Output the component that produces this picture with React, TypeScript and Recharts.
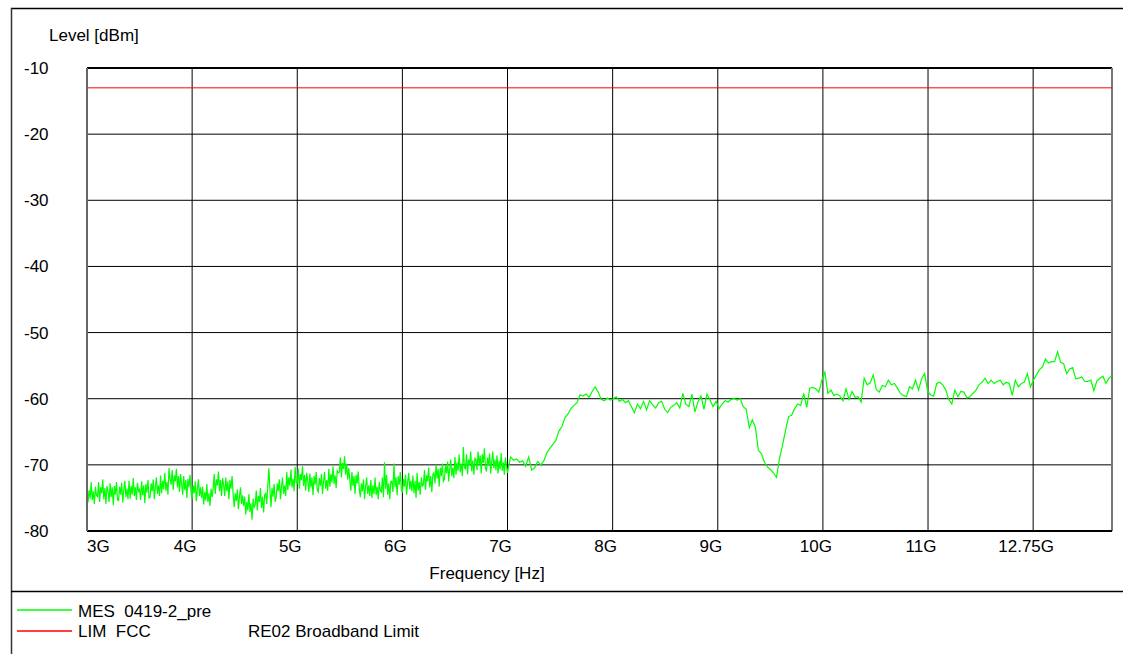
import React from "react";
import { LineChart, Line, XAxis, YAxis, CartesianGrid, ReferenceLine } from "recharts";

// Measurement trace, low band: 3.00 GHz .. 7.00 GHz, 0.01 GHz sweep step (dBm)
const lowBandStartGHz = 3.0;
const lowBandStepGHz = 0.01;
const lowBandLevels: number[] = [
  -73.0, -75.7, -73.8, -75.1, -72.6, -75.3, -74.0, -75.9, -73.3, -74.6,
  -74.8, -72.6, -75.6, -73.4, -74.3, -72.2, -75.2, -73.5, -75.9, -73.2,
  -74.0, -75.6, -72.8, -74.9, -73.4, -76.1, -73.2, -74.5, -72.6, -75.3,
  -75.4, -73.3, -74.5, -72.7, -75.7, -73.8, -72.4, -74.9, -73.6, -75.2,
  -72.4, -75.1, -73.2, -74.5, -72.0, -74.7, -73.4, -75.3, -72.7, -74.0,
  -73.7, -75.3, -72.5, -74.6, -73.1, -75.8, -72.9, -74.2, -72.3, -75.0,
  -74.9, -72.8, -74.0, -72.2, -75.2, -73.3, -71.9, -74.4, -73.1, -74.7,
  -71.6, -74.3, -72.4, -73.7, -71.2, -73.9, -72.6, -74.5, -70.5, -72.2,
  -73.0, -70.8, -73.8, -71.6, -72.5, -70.6, -73.4, -71.7, -74.1, -71.4,
  -72.9, -74.5, -71.7, -73.8, -72.3, -75.0, -72.1, -73.4, -71.5, -74.2,
  -75.2, -73.1, -74.3, -72.5, -75.5, -73.6, -72.2, -74.7, -73.4, -75.0,
  -73.3, -76.0, -74.1, -75.4, -72.9, -75.6, -74.3, -76.2, -73.6, -74.9,
  -73.6, -71.4, -74.4, -72.2, -73.1, -71.0, -74.0, -72.3, -74.7, -72.0,
  -73.1, -74.7, -71.9, -74.0, -72.5, -75.2, -72.3, -73.6, -71.7, -74.4,
  -76.4, -74.3, -75.5, -73.7, -76.7, -74.8, -73.4, -75.9, -74.6, -76.2,
  -74.8, -77.5, -75.6, -76.9, -74.4, -77.1, -75.8, -78.3, -75.1, -76.4,
  -76.1, -73.9, -76.9, -74.7, -75.6, -73.5, -76.5, -74.8, -77.2, -74.5,
  -74.3, -75.9, -73.1, -70.5, -73.7, -76.4, -73.5, -74.8, -72.9, -75.6,
  -74.9, -72.8, -74.0, -72.2, -75.2, -73.3, -71.9, -74.4, -73.1, -74.7,
  -71.1, -73.8, -71.9, -73.2, -70.7, -73.4, -72.1, -74.0, -70.3, -72.7,
  -72.8, -70.6, -73.6, -71.4, -72.3, -70.2, -73.2, -71.5, -73.9, -71.2,
  -72.5, -74.1, -71.3, -73.4, -71.9, -74.6, -71.7, -73.0, -71.1, -73.8,
  -74.1, -72.0, -73.2, -71.4, -74.4, -72.5, -71.1, -73.6, -72.3, -73.9,
  -70.6, -73.3, -71.4, -72.7, -70.2, -72.9, -71.6, -73.5, -70.9, -71.2,
  -71.1, -68.9, -71.9, -69.7, -70.6, -68.7, -71.5, -69.8, -72.2, -70.5,
  -72.3, -73.9, -71.1, -73.2, -71.7, -74.4, -71.5, -72.8, -71.0, -73.6,
  -74.9, -72.8, -74.0, -72.2, -75.2, -73.3, -71.9, -74.4, -73.1, -74.7,
  -72.3, -75.0, -73.1, -74.4, -71.9, -74.6, -73.3, -75.2, -72.6, -73.9,
  -74.1, -71.9, -74.9, -69.6, -73.6, -71.5, -74.5, -72.8, -75.2, -72.5,
  -72.5, -74.1, -69.8, -73.4, -71.9, -74.6, -71.7, -73.0, -71.1, -73.8,
  -74.2, -72.1, -73.3, -71.5, -74.5, -72.6, -71.2, -73.7, -72.4, -74.0,
  -71.6, -74.3, -72.4, -75.0, -71.2, -73.9, -72.6, -74.5, -71.9, -73.2,
  -73.0, -70.8, -73.8, -71.6, -72.5, -70.4, -73.4, -71.7, -74.1, -71.4,
  -71.2, -72.8, -70.0, -72.1, -70.6, -73.3, -70.4, -71.7, -69.8, -72.5,
  -72.2, -70.1, -71.3, -69.5, -72.5, -70.6, -69.2, -71.7, -70.4, -72.0,
  -68.8, -71.5, -69.6, -70.9, -68.4, -71.1, -69.8, -71.7, -67.3, -70.4,
  -70.6, -68.4, -71.4, -69.2, -70.1, -68.0, -71.0, -69.3, -71.5, -69.0,
  -69.2, -70.8, -68.0, -70.1, -68.6, -71.3, -68.4, -69.7, -67.5, -70.5,
  -71.0, -68.9, -70.1, -68.3, -71.3, -69.4, -68.0, -70.5, -69.2, -70.8,
  -68.6, -71.3, -69.4, -70.7, -68.2, -70.9, -69.6, -71.5, -68.9, -70.2,
  -71.2,
];

// Measurement trace, high band: after 7.00 GHz .. 12.75 GHz, 0.02875 GHz sweep step (dBm)
const highBandStartGHz = 7.0;
const highBandStepGHz = 0.02875;
const highBandLevels: number[] = [
  -68.8, -69.3, -69.1, -69.6, -69.4, -70.2, -68.8, -70.8, -70.4, -69.5,
  -70.0, -69.4, -68.2, -67.5, -66.9, -66.3, -64.9, -64.2, -62.9, -62.3,
  -61.5, -61.0, -60.6, -59.4, -59.6, -59.3, -59.8, -58.9, -58.2, -59.0,
  -60.1, -60.3, -59.9, -60.2, -60.0, -59.7, -60.4, -60.1, -60.6, -60.3,
  -61.2, -62.1, -60.8, -61.5, -60.4, -61.7, -60.3, -60.9, -61.4, -60.6,
  -60.4, -61.6, -62.1, -61.3, -61.0, -60.6, -61.4, -59.2, -60.8, -61.2,
  -59.3, -62.0, -60.5, -59.6, -61.6, -59.3, -60.2, -61.2, -60.4, -61.5,
  -60.8, -60.3, -60.5, -60.1, -60.0, -60.2, -60.0, -61.2, -61.6, -64.4,
  -63.2, -64.3, -67.8, -68.3, -69.6, -70.3, -70.7, -71.2, -71.9, -69.0,
  -67.0, -64.8, -62.7, -62.5, -61.5, -60.8, -61.0, -59.2, -61.3, -58.4,
  -58.3, -58.5, -59.0, -57.2, -56.0, -59.2, -58.7, -59.5, -59.3, -59.6,
  -60.3, -58.5, -60.1, -58.9, -59.8, -59.7, -60.5, -56.9, -57.9, -57.6,
  -56.4, -58.6, -59.0, -58.0, -58.2, -57.2, -57.9, -57.7, -58.4, -59.2,
  -59.5, -59.7, -58.2, -58.5, -57.2, -58.7, -57.0, -56.2, -58.9, -59.4,
  -59.6, -57.7, -57.5, -57.9, -58.7, -60.1, -60.8, -58.7, -59.7, -58.9,
  -59.0, -59.9, -59.7, -59.2, -58.7, -57.9, -57.5, -56.9, -57.7, -57.2,
  -57.7, -57.4, -57.2, -57.9, -57.5, -57.7, -59.5, -57.2, -58.2, -57.7,
  -57.5, -56.2, -58.2, -57.2, -56.4, -55.6, -55.2, -54.0, -54.6, -54.4,
  -54.4, -52.9, -54.5, -54.7, -56.2, -55.5, -55.3, -57.0, -56.9, -56.7,
  -57.4, -57.4, -57.2, -58.8, -57.3, -56.9, -56.6, -57.7, -56.9, -56.5,
];

// Limit line (FCC RE02 broadband limit)
const limitFreqsGHz: number[] = [3.0, 12.75];
const limitLevels: number[] = [-13.0, -13.0];

// Axes
const xDomain: [number, number] = [3.0, 12.75];
const xTickValues: number[] = [3, 4, 5, 6, 7, 8, 9, 10, 11, 12];
const xTickLabels: string[] = ["3G", "4G", "5G", "6G", "7G", "8G", "9G", "10G", "11G", "12.75G"];
const yDomain: [number, number] = [-80, -10];
const yTickValues: number[] = [-80, -70, -60, -50, -40, -30, -20, -10];

const measurementData = [
  ...lowBandLevels.map((v, i) => ({ f: +(lowBandStartGHz + i * lowBandStepGHz).toFixed(5), level: v })),
  ...highBandLevels.map((v, i) => ({ f: +(highBandStartGHz + (i + 1) * highBandStepGHz).toFixed(5), level: v })),
];
const limitData = limitFreqsGHz.map((f, i) => ({ f, level: limitLevels[i] }));

const FONT = '"Liberation Sans", Arial, Helvetica, sans-serif';
const FS = 17;

const XTick = (props: any) => {
  const { x, y, payload, index } = props;
  const label = xTickLabels[xTickValues.indexOf(payload.value)] ?? "";
  if (index === 0) {
    return (
      <text x={x} y={y + 21} textAnchor="start" fontSize={FS} fontFamily={FONT} fill="#000">
        {label}
      </text>
    );
  }
  return (
    <text x={x - 7} y={y + 21} textAnchor="middle" fontSize={FS} fontFamily={FONT} fill="#000">
      {label}
    </text>
  );
};

const YTick = (props: any) => {
  const { y, payload } = props;
  return (
    <text x={24} y={y + 6} textAnchor="start" fontSize={FS} fontFamily={FONT} fill="#000">
      {String(payload.value)}
    </text>
  );
};

export default function App() {
  return (
    <div style={{ position: "absolute", left: 0, top: 0, width: 1123, height: 654, background: "#fff", overflow: "hidden" }}>
      <div style={{ position: "absolute", left: 0, top: 0 }}>
        <LineChart width={1123} height={654} margin={{ top: 68, right: 11, bottom: 93, left: 24 }}>
          <CartesianGrid stroke="#000" strokeWidth={1} horizontalValues={yTickValues} verticalValues={xTickValues} />
          <XAxis
            dataKey="f"
            type="number"
            domain={xDomain}
            ticks={xTickValues}
            allowDataOverflow
            height={30}
            tick={<XTick />}
            tickLine={false}
            tickSize={0}
            tickMargin={0}
            axisLine={{ stroke: "#000", strokeWidth: 2 }}
            interval={0}
          />
          <YAxis
            type="number"
            domain={yDomain}
            ticks={yTickValues}
            allowDataOverflow
            width={63}
            tick={<YTick />}
            tickLine={false}
            tickSize={0}
            axisLine={{ stroke: "#666", strokeWidth: 2 }}
            interval={0}
          />
          <ReferenceLine y={-10} stroke="#000" strokeWidth={2} ifOverflow="visible" />
          <ReferenceLine x={12.75} stroke="#777" strokeWidth={2} ifOverflow="visible" />
          <Line
            data={limitData}
            dataKey="level"
            type="linear"
            stroke="#ff0000"
            strokeWidth={1}
            dot={false}
            activeDot={false}
            isAnimationActive={false}
          />
          <Line
            data={measurementData}
            dataKey="level"
            type="linear"
            stroke="#00ff00"
            strokeWidth={1.2}
            dot={false}
            activeDot={false}
            isAnimationActive={false}
          />
        </LineChart>
      </div>
      <svg width={1123} height={654} style={{ position: "absolute", left: 0, top: 0, pointerEvents: "none" }}>
        <line x1={11} y1={8.5} x2={1123} y2={8.5} stroke="#000" strokeWidth={1.5} />
        <line x1={11.5} y1={8} x2={11.5} y2={654} stroke="#333" strokeWidth={1.5} />
        <line x1={11} y1={591.5} x2={1123} y2={591.5} stroke="#000" strokeWidth={1.5} />
        <text x={49} y={41} fontSize={FS} fontFamily={FONT} fill="#000">Level [dBm]</text>
        <text x={487} y={579} textAnchor="middle" fontSize={FS} fontFamily={FONT} fill="#000">Frequency [Hz]</text>
        <line x1={17} y1={610} x2={72} y2={610} stroke="#00ff00" strokeWidth={1.5} />
        <line x1={17} y1={631} x2={72} y2={631} stroke="#ff0000" strokeWidth={1.5} />
        <text x={78} y={617} fontSize={FS} fontFamily={FONT} fill="#000" style={{ whiteSpace: "pre" }}>{"MES  0419-2_pre"}</text>
        <text x={78} y={637} fontSize={FS} fontFamily={FONT} fill="#000" style={{ whiteSpace: "pre" }}>{"LIM  FCC"}</text>
        <text x={248} y={637} fontSize={FS} fontFamily={FONT} fill="#000">RE02 Broadband Limit</text>
      </svg>
    </div>
  );
}
